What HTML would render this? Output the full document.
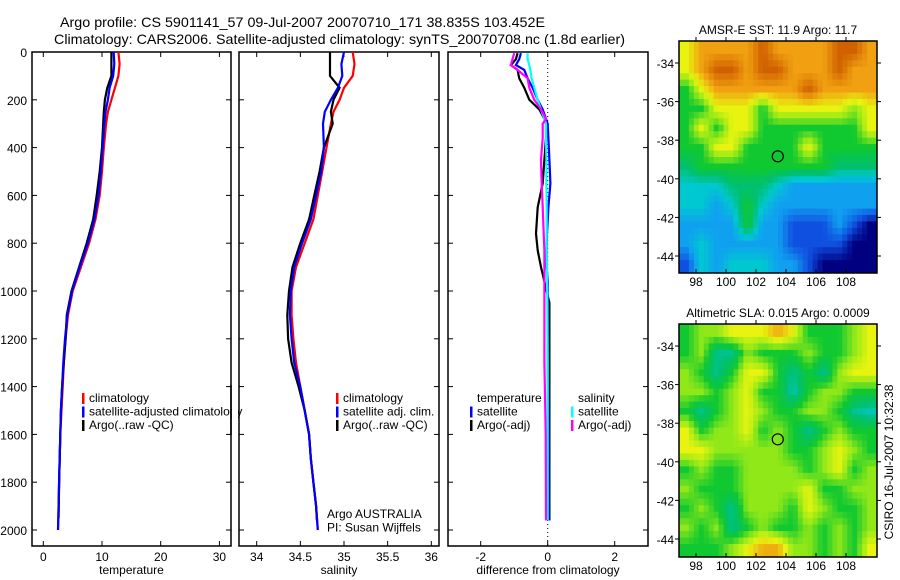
<!DOCTYPE html>
<html><head><meta charset="utf-8"><style>
body{margin:0;background:#fff;}
svg{display:block;font-family:"Liberation Sans",sans-serif;}
text{font-size:12px;fill:#000;}
</style></head><body>
<svg id="chart" width="900" height="580" viewBox="0 0 900 580">
<text x="60" y="27" textLength="485" lengthAdjust="spacingAndGlyphs" style="font-size:14px">Argo profile: CS 5901141_57 09-Jul-2007 20070710_171 38.835S 103.452E</text>
<text x="54" y="44" textLength="571" lengthAdjust="spacingAndGlyphs" style="font-size:14px">Climatology: CARS2006. Satellite-adjusted climatology: synTS_20070708.nc (1.8d earlier)</text>
<g id="g1"></g>
<g id="g2"></g>
<g id="g3"></g>
<g id="m1"></g>
<g id="m2"></g>
<text transform="translate(893,462) rotate(-90)" text-anchor="middle">CSIRO 16-Jul-2007 10:32:38</text>
</svg>
<script>
const depths=[0,50,100,150,200,250,300,400,500,600,700,800,900,1000,1100,1200,1300,1400,1500,1600,1700,1800,1900,2000];
const tempClim=[12.8,13,12.8,12.2,11.6,11.0,10.7,10.3,10,9.6,8.9,7.8,6.4,5.0,4.2,3.8,3.5,3.3,3.1,2.9,2.8,2.7,2.6,2.5];
const tempSat=[12,12.1,11.9,11.3,11.0,10.6,10.4,10.1,9.8,9.4,8.7,7.6,6.2,4.9,4.1,3.7,3.4,3.2,3.0,2.9,2.8,2.7,2.6,2.5];
const tempArgo=[11.6,11.6,11.6,10.9,10.5,10.3,10.2,10.0,9.6,9.1,8.5,7.4,6.1,4.8,4.0,3.8,3.5,3.2,3.0,2.9,2.8,2.7,2.6,2.5];
const salClim=[35.1,35.12,35.1,35.0,34.95,34.88,34.85,34.8,34.75,34.7,34.65,34.55,34.45,34.4,34.4,34.42,34.45,34.5,34.55,34.6,34.62,34.65,34.68,34.7];
const salSat=[35.0,34.97,34.98,34.93,34.85,34.78,34.76,34.77,34.74,34.68,34.62,34.52,34.43,34.39,34.38,34.4,34.43,34.5,34.55,34.6,34.62,34.65,34.68,34.7];
const salArgo=[34.84,34.84,34.84,34.95,34.88,34.85,34.87,34.77,34.72,34.66,34.6,34.5,34.41,34.37,34.35,34.36,34.4,34.48,34.55,34.6,34.62,34.65,34.68,34.69];
const diffDepths=[5,30,55,75,110,150,200,240,280,300,360,450,550,650,760,830,900,960,1050,1300,1600,1960];
const dTempSat=[-0.8,-0.85,-0.95,-0.7,-0.6,-0.45,-0.3,-0.15,-0.05,0,0.02,0.05,0.08,0.02,-0.02,-0.03,-0.03,0,0,0,0.02,0.03];
const dTempArgo=[-0.9,-0.95,-1.1,-0.9,-0.85,-0.7,-0.55,-0.25,-0.1,-0.05,-0.05,-0.1,-0.15,-0.3,-0.35,-0.3,-0.2,-0.1,0.05,0.05,0.05,0.05];
const dSalSat=[-0.6,-0.6,-0.55,-0.52,-0.48,-0.4,-0.3,-0.2,-0.1,-0.05,-0.05,-0.04,-0.04,-0.03,-0.03,-0.03,-0.02,-0.02,-0.01,0,0,0];
const dSalArgo=[-1.0,-1.05,-1.1,-0.9,-0.6,-0.55,-0.4,-0.2,-0.05,-0.15,-0.15,-0.2,-0.18,-0.15,-0.12,-0.1,-0.1,-0.1,-0.1,-0.1,-0.06,-0.05];
const depthTicks=[0,200,400,600,800,1000,1200,1400,1600,1800,2000];
const tempTicks=[0,10,20,30];
const salTicks=[34,34.5,35,35.5,36];
const diffTicks=[-2,0,2];
const lonTicks=[98,100,102,104,106,108];
const latTicks=[-34,-36,-38,-40,-42,-44];
const sstGrid=["YooooOooooOOo","YoOOoOOoooOoo","GYooooooOoooo","GGYYYGYYYYYgY","GYGYYGGGGGGGY","GGYYGGGGYGGGG","TGGGGGGGGGTTT","cccTTTcbbbbbb","ccbcGcbbbbbbb","bbbbGbbBBBbBN","bcbbbbbBBBBNN","BcbcccbbBNNNN"];
const slaGrid=["GLLYYYOYGGGLY","GLTTLGGGLGGLY","LGTGYYGTGTLYY","LLGLYGGCGLLGG","GTGLYLGGLLGTC","YGLLYGLGTGLGG","YYLLLLLGGLYLG","GLGGLLLLGLYGL","LGGGLLLLYGGLL","GLGTLLLGYLGGL","LGLTGLGGLGLGL","GGGLYOOLLGLGY"];
const NS="http://www.w3.org/2000/svg";
function el(p,t,a){const e=document.createElementNS(NS,t);for(const k in a)e.setAttribute(k,a[k]);p.appendChild(e);return e;}
const y=d=>52+d*0.239;
const T0=52,B0=546;
function panel(g,x0,x1,xs,ticks,fmt,label){
  el(g,'rect',{x:x0,y:T0,width:x1-x0,height:B0-T0,fill:'none',stroke:'#000','stroke-width':1.5});
  depthTicks.forEach(d=>{el(g,'line',{x1:x0,x2:x0+5,y1:y(d),y2:y(d),stroke:'#000'});el(g,'line',{x1:x1-5,x2:x1,y1:y(d),y2:y(d),stroke:'#000'});});
  ticks.forEach(v=>{const X=xs(v);el(g,'line',{x1:X,x2:X,y1:T0,y2:T0+5,stroke:'#000'});el(g,'line',{x1:X,x2:X,y1:B0-5,y2:B0,stroke:'#000'});
    const t=el(g,'text',{x:X,y:B0+15,'text-anchor':'middle'});t.textContent=fmt(v);
    
    });
  const t=el(g,'text',{x:(x0+x1)/2,y:B0+28,'text-anchor':'middle'});t.textContent=label;
  
  
}
function line(g,xs,vals,ds,col,name){
  const pts=vals.map((v,i)=>xs(v).toFixed(1)+','+y(ds[i]).toFixed(1)).join(' ');
  const p=el(g,'polyline',{points:pts,fill:'none',stroke:col,'stroke-width':2.2});
  
  
}
function legend(g,x,y0,items){
  items.forEach((it,i)=>{const yy=y0+i*13.5;
    if(it[1])el(g,'rect',{x:x,y:yy-9,width:2.5,height:11,fill:it[1]});
    const t=el(g,'text',{x:x+7,y:yy});t.textContent=it[0];
    
    });
}
const g1=document.getElementById('g1');
const xT=v=>43.3+v*5.87;
panel(g1,32,231,xT,tempTicks,v=>v,'temperature');
depthTicks.forEach(d=>{const t=el(g1,'text',{x:27,y:y(d)+5,'text-anchor':'end'});t.textContent=d;
  
  });
line(g1,xT,tempClim,depths,'#ff0000','temp-climatology-line');
line(g1,xT,tempArgo.slice(0,23),depths.slice(0,23).map((d,i)=>i==22?1950:d),'#000','temp-argo-line');
line(g1,xT,tempSat,depths,'#0000ff','temp-satellite-line');
legend(g1,82,402,[['climatology','#f00'],['satellite-adjusted climatology','#00f'],['Argo(..raw -QC)','#000']]);
el(g1,'rect',{x:232,y:385,width:6,height:50,fill:'#fff'});
el(g1,'line',{x1:231,x2:231,y1:385,y2:435,stroke:'#000','stroke-width':1.5});
const g2=document.getElementById('g2');
const xS=v=>256.7+(v-34)*87.3;
panel(g2,239,439,xS,salTicks,v=>v,'salinity');
line(g2,xS,salClim,depths,'#ff0000','sal-climatology-line');
line(g2,xS,salArgo,depths.map((d,i)=>i==23?1960:d),'#000','sal-argo-line');
line(g2,xS,salSat,depths,'#0000ff','sal-satellite-line');
legend(g2,336,402,[['climatology','#f00'],['satellite adj. clim.','#00f'],['Argo(..raw -QC)','#000']]);
legend(g2,320,518,[['Argo AUSTRALIA',null],['PI: Susan Wijffels',null]]);
const g3=document.getElementById('g3');
const xD=v=>547.7+v*33.5;
panel(g3,448,648,xD,diffTicks,v=>v,'difference from climatology');
el(g3,'line',{x1:xD(0),x2:xD(0),y1:T0,y2:B0,stroke:'#000','stroke-dasharray':'1,3'});
line(g3,xD,dTempArgo,diffDepths,'#000','diff-temp-argo-line');
line(g3,xD,dTempSat,diffDepths,'#0000ff','diff-temp-satellite-line');
line(g3,xD,dSalSat,diffDepths,'#00ffff','diff-sal-satellite-line');
line(g3,xD,dSalArgo,diffDepths,'#ff00ff','diff-sal-argo-line');
legend(g3,470,402,[['temperature',null],['satellite','#00f'],['Argo(-adj)','#000']]);
legend(g3,571,402,[['salinity',null],['satellite','#0ff'],['Argo(-adj)','#f0f']]);
// maps
const sstVal={N:0,B:0.12,b:0.25,c:0.35,T:0.45,G:0.55,g:0.65,Y:0.75,o:0.87,O:1};
const slaVal={C:0.38,T:0.42,G:0.55,L:0.65,Y:0.75,O:0.85};
const stops=[[0,[0,0,128]],[0.12,[16,80,224]],[0.25,[16,160,240]],[0.35,[0,200,208]],[0.45,[0,192,112]],[0.55,[16,200,48]],[0.65,[144,232,24]],[0.75,[232,244,16]],[0.87,[240,160,16]],[1,[208,96,0]]];
function cmap(v){v=Math.max(0,Math.min(1,v));for(let i=1;i<stops.length;i++){if(v<=stops[i][0]){const a=stops[i-1],b=stops[i],t=(v-a[0])/(b[0]-a[0]);const c=a[1].map((x,k)=>Math.round(x+(b[1][k]-x)*t));return 'rgb('+c.join(',')+')';}}return 'rgb(208,96,0)';}
function map(id,top,bot,grid,vals,title){
  const g=document.getElementById(id);const L=679,R=877;
  const nx=40,ny=36,cw=(R-L)/nx,ch=(bot-top)/ny;
  const V=(r,c)=>{r=Math.max(0,Math.min(11,r));c=Math.max(0,Math.min(12,c));return vals[grid[r][c]];};
  for(let j=0;j<ny;j++)for(let i=0;i<nx;i++){
    const gx=(i+0.5)/nx*13-0.5,gy=(j+0.5)/ny*12-0.5;
    const c0=Math.floor(gx),r0=Math.floor(gy),fx=gx-c0,fy=gy-r0;
    const v=V(r0,c0)*(1-fx)*(1-fy)+V(r0,c0+1)*fx*(1-fy)+V(r0+1,c0)*(1-fx)*fy+V(r0+1,c0+1)*fx*fy;
    el(g,'rect',{x:(L+i*cw).toFixed(2),y:(top+j*ch).toFixed(2),width:(cw+0.4).toFixed(2),height:(ch+0.4).toFixed(2),fill:cmap(v)});
  }
  el(g,'rect',{x:L,y:top,width:R-L,height:bot-top,fill:'none',stroke:'#000','stroke-width':1.5});
  const lx=v=>696+(v-98)*15;
  const l0=top+22,ly=v=>l0+(-34-v)*19.3;
  lonTicks.forEach(v=>{el(g,'line',{x1:lx(v),x2:lx(v),y1:top-4,y2:top,stroke:'#000'});el(g,'line',{x1:lx(v),x2:lx(v),y1:bot-4,y2:bot,stroke:'#000'});
    const t=el(g,'text',{x:lx(v),y:bot+13,'text-anchor':'middle'});t.textContent=v;
    
    });
  latTicks.forEach(v=>{el(g,'line',{x1:L-4,x2:L,y1:ly(v),y2:ly(v),stroke:'#000'});el(g,'line',{x1:R,x2:R+4,y1:ly(v),y2:ly(v),stroke:'#000'});
    const t=el(g,'text',{x:L-5,y:ly(v)+5,'text-anchor':'end'});t.textContent=v;
    
    });
  const c=el(g,'circle',{cx:lx(103.452),cy:ly(-38.835),r:5.5,fill:'none',stroke:'#000','stroke-width':1.2});
  
  
  const t=el(g,'text',{x:(L+R)/2,y:top-7,'text-anchor':'middle'});t.textContent=title;
  
  
}
map('m1',41,273,sstGrid,sstVal,'AMSR-E SST: 11.9 Argo: 11.7');
map('m2',324,557,slaGrid,slaVal,'Altimetric SLA: 0.015 Argo: 0.0009');
</script>
</body></html>
